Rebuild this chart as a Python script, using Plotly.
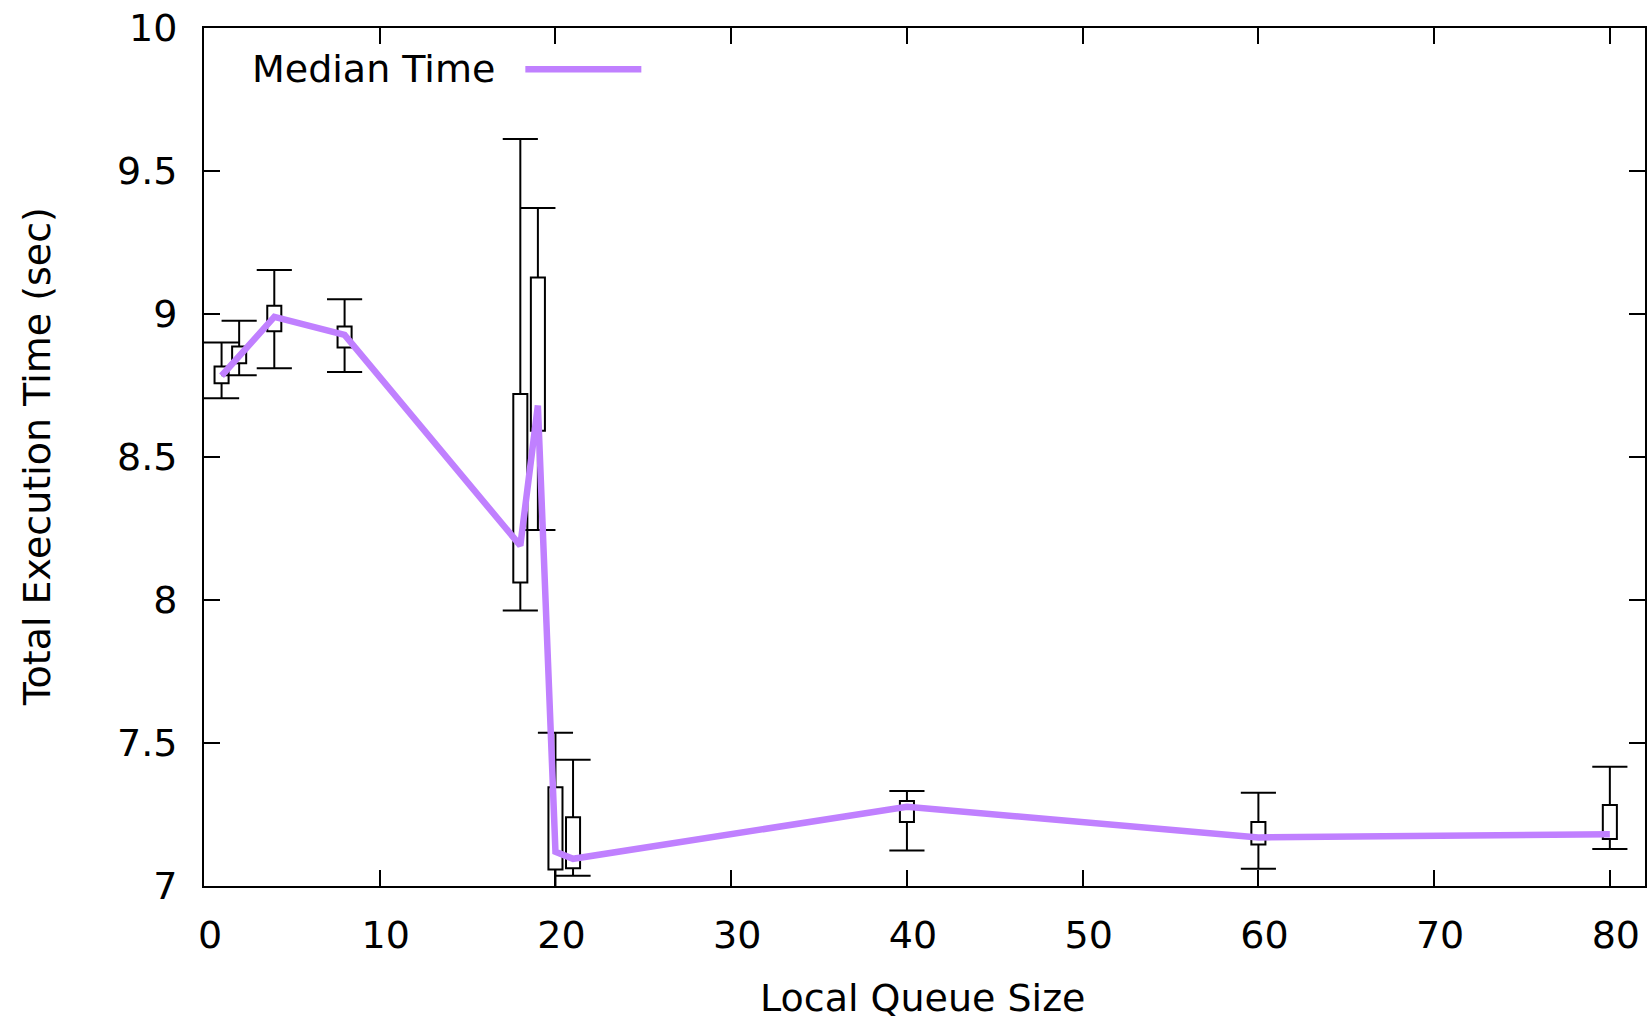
import plotly.graph_objects as go

# Data
queue_size = [1, 2, 4, 8, 18, 19, 20, 21, 40, 60, 80]
whisker_low = [8.705, 8.786, 8.810, 8.797, 7.963, 8.245, 6.95, 7.036, 7.124, 7.060, 7.129]
box_low = [8.758, 8.828, 8.940, 8.883, 8.061, 8.592, 7.058, 7.062, 7.224, 7.145, 7.164]
box_high = [8.816, 8.886, 9.029, 8.956, 8.720, 9.128, 7.345, 7.240, 7.297, 7.224, 7.283]
whisker_high = [8.900, 8.976, 9.154, 9.052, 9.612, 9.371, 7.536, 7.441, 7.332, 7.326, 7.417]
median_time = [8.784, 8.855, 8.990, 8.927, 8.190, 8.680, 7.120, 7.095, 7.277, 7.170, 7.181]

x_ticks = [0, 10, 20, 30, 40, 50, 60, 70, 80]
y_ticks = [7, 7.5, 8, 8.5, 9, 9.5, 10]
y_tick_labels = ["7", "7.5", "8", "8.5", "9", "9.5", "10"]

FONT = "DejaVu Sans"
PURPLE = "#c080ff"
CAP_HALF = 1.0  # whisker-bar half width, in x units

# Build whisker segments (box edge -> extreme, plus caps) from the data arrays
wx, wy = [], []
for x, lo, q1, q3, hi in zip(queue_size, whisker_low, box_low, box_high, whisker_high):
    wx += [x, x, None, x - CAP_HALF, x + CAP_HALF, None,
           x, x, None, x - CAP_HALF, x + CAP_HALF, None]
    wy += [q3, hi, None, hi, hi, None,
           q1, lo, None, lo, lo, None]

fig = go.Figure()

# Boxes (candlestick bodies)
fig.add_trace(go.Bar(
    x=queue_size,
    y=[h - l for h, l in zip(box_high, box_low)],
    base=box_low,
    width=0.8,
    marker=dict(color="rgba(255,255,255,0)", line=dict(color="black", width=2)),
    showlegend=False,
    hoverinfo="skip",
))

# Whiskers with caps
fig.add_trace(go.Scatter(
    x=wx, y=wy, mode="lines",
    line=dict(color="black", width=2),
    showlegend=False, hoverinfo="skip",
))

# Median line
fig.add_trace(go.Scatter(
    x=queue_size, y=median_time, mode="lines",
    line=dict(color=PURPLE, width=6.5),
    name="Median Time", showlegend=False,
))

axis_common = dict(
    showline=True, linecolor="black", linewidth=2, mirror="allticks",
    ticks="inside", ticklen=16, tickwidth=2, tickcolor="black",
    showgrid=False, zeroline=False,
    tickfont=dict(family=FONT, size=38, color="black"),
)

fig.update_layout(
    width=1650, height=1019,
    margin=dict(l=204, r=3, t=28, b=133),
    paper_bgcolor="white", plot_bgcolor="white",
    font=dict(family=FONT, size=38, color="black"),
    showlegend=False,
    xaxis=dict(range=[0, 82], tickvals=x_ticks, ticklabelstandoff=14,
               ticklabelshift=6, **axis_common),
    yaxis=dict(range=[7, 10], tickvals=y_ticks, ticktext=y_tick_labels,
               ticklabelstandoff=17, **axis_common),
    annotations=[
        dict(text="Local Queue Size", xref="paper", yref="paper",
             x=0.499, y=-0.1305, xanchor="center", yanchor="middle",
             showarrow=False, font=dict(family=FONT, size=38, color="black")),
        dict(text="Total Execution Time (sec)", xref="paper", yref="paper",
             x=-0.1157, y=0.5, xanchor="center", yanchor="middle", textangle=-90,
             showarrow=False, font=dict(family=FONT, size=38, color="black")),
        dict(text="Median Time", xref="paper", yref="paper",
             x=0.032, y=0.952, xanchor="left", yanchor="middle",
             showarrow=False, font=dict(family=FONT, size=38, color="black")),
    ],
    shapes=[
        dict(type="line", xref="paper", yref="paper",
             x0=0.223, x1=0.3035, y0=0.952, y1=0.952,
             line=dict(color=PURPLE, width=6.5)),
    ],
)

fig.write_html("out.html", config={"displayModeBar": False},
               post_script="document.body.style.margin='0';")
